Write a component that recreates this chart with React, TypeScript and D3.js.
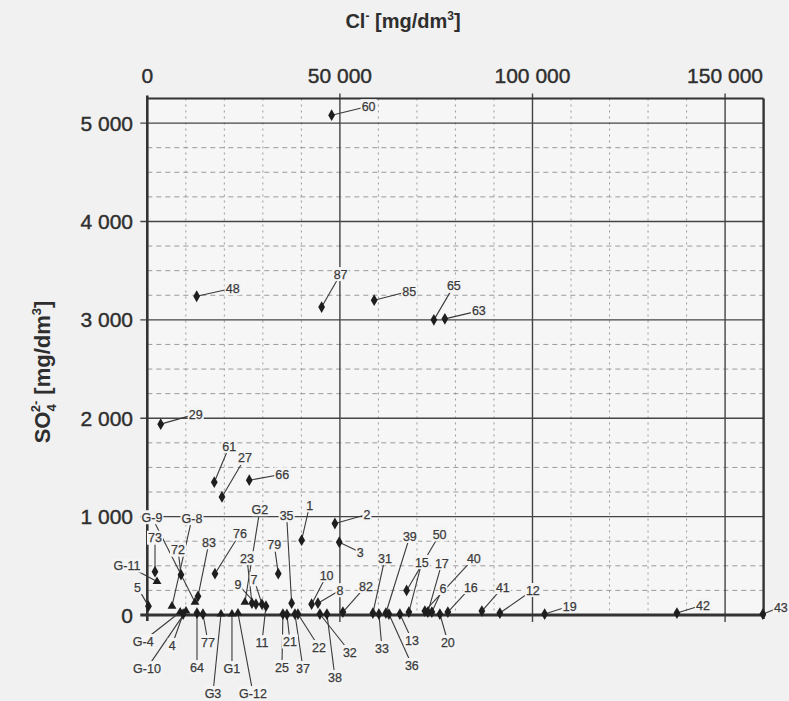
import React from "react";
import * as d3 from "d3";

// Sample identifiers and their concentrations
const sampleIds = [
  "60", "87", "85", "65", "63", "48", "29", "61", "27", "66",
  "1", "2", "3", "79", "76", "83", "73", "72", "G-11", "5",
  "G-9", "G-8", "G-4", "G-10", "4", "77", "64", "G3", "G1", "G-12",
  "G2", "23", "9", "7", "11", "35", "25", "21", "37", "22",
  "10", "8", "32", "38", "82", "31", "33", "39", "36", "13",
  "50", "15", "40", "17", "6", "20", "16", "41", "12", "19",
  "42", "43",
];

// Cl- [mg/dm3]
const chloride = [
  47850, 45260, 58900, 74400, 77250, 12820, 3480, 17390, 19380, 26470,
  40070, 48710, 49830, 34000, 17570, 13160, 2000, 8750, 2520, 300,
  12380, 6410, 8540, 10040, 9300, 14450, 12900, 19130, 21980, 23540,
  25350, 27170, 28210, 29770, 30810, 37470, 35210, 36250, 38330, 39110,
  42660, 44300, 44800, 46630, 50780, 58570, 60130, 61940, 62720, 65580,
  67320, 67910, 72060, 72840, 73880, 75960, 78030, 86860, 91530, 103160,
  137500, 159800,
];

// SO4 2- [mg/dm3]
const sulfate = [
  5080, 3130, 3200, 3000, 3010, 3240, 1940, 1350, 1200, 1370,
  760, 930, 740, 420, 420, 190, 440, 410, 340, 90,
  130, 90, 30, 40, 10, 10, 20, 10, 10, 20,
  130, 120, 110, 110, 90, 120, 10, 5, 10, 10,
  110, 120, 10, 10, 30, 20, 10, 20, 10, 10,
  250, 30, 40, 30, 30, 10, 30, 40, 20, 10,
  20, 10,
];

// Label placement (pixel offset of each label from its marker)
const labelDx = [
  37, 19, 35, 20, 34, 36, 35, 15, 23, 33,
  8, 32, 21, -4, 25, 11, 0, -3, -30, -11,
  -43, 20, -37, -39, -11, 5, 0, -8, 0, 15,
  15, -5, -18, -8, -4, -5, -1, 3, 8, 21,
  15, 22, 30, 8, 23, 12, 3, 24, 23, 12,
  33, 13, 49, 14, 11, 8, 23, 21, 33, 25,
  26, 18,
];
const labelDy = [
  -9, -33, -9, -34, -8, -8, -10, -36, -39, -6,
  -35, -9, 10, -29, -40, -54, -34, -25, -16, -19,
  -85, -88, 29, 57, 31, 28, 54, 79, 54, 80,
  -93, -45, -20, -25, 36, -88, 53, 27, 54, 33,
  -29, -13, 38, 63, -26, -55, 34, -77, 51, 26,
  -56, -50, -53, -49, -24, 28, -25, -24, -23, -8,
  -8, -7,
];

const xMajorTicks = [0, 50000, 100000, 150000];
const yMajorTicks = [0, 1000, 2000, 3000, 4000, 5000];
const xTickLabels = ["0", "50 000", "100 000", "150 000"];
const yTickLabels = ["0", "1 000", "2 000", "3 000", "4 000", "5 000"];

const W = 789;
const H = 701;
const BG = "#f1f1f1";
const INK = "#2e2e2e";
const FONT = "'Liberation Sans', Arial, sans-serif";

export default function App() {
  const x = d3.scaleLinear().domain([0, 160000]).range([147.3, 763.6]);
  const y = d3.scaleLinear().domain([0, 5250]).range([615, 98.5]);

  const xMinor = d3.range(10000, 160000, 10000).filter((v) => v % 50000 !== 0);
  const yMinor = d3.range(250, 5250, 250).filter((v) => v % 1000 !== 0);

  const [x0, x1] = x.range();
  const [y0, y1] = y.range();

  const points = sampleIds.map((id, i) => {
    const px = x(chloride[i]);
    const py = y(sulfate[i]);
    return {
      id,
      px,
      py,
      lx: px + labelDx[i],
      ly: py + labelDy[i],
      w: id.length * 7 + 2,
    };
  });

  const diamond = d3.symbol().type(d3.symbolDiamond).size(40);
  const triangle = d3.symbol().type(d3.symbolTriangle).size(34);

  return (
    <svg
      width={W}
      height={H}
      viewBox={`0 0 ${W} ${H}`}
      style={{ position: "absolute", left: 0, top: 0, background: BG }}
      fontFamily={FONT}
    >
      <rect x={0} y={0} width={W} height={H} fill={BG} />
      <rect x={x0} y={y1} width={x1 - x0} height={y0 - y1} fill="#f6f6f6" />

      {/* minor grid */}
      {xMinor.map((v) => (
        <line
          key={"xm" + v}
          x1={x(v)}
          x2={x(v)}
          y1={y1}
          y2={y0}
          stroke="#909090"
          strokeWidth={0.9}
          strokeDasharray="2 4"
        />
      ))}
      {yMinor.map((v) => (
        <line
          key={"ym" + v}
          x1={x0}
          x2={x1}
          y1={y(v)}
          y2={y(v)}
          stroke="#909090"
          strokeWidth={0.9}
          strokeDasharray="5 4"
        />
      ))}

      {/* major grid with outer ticks */}
      {xMajorTicks.slice(1).map((v) => (
        <line
          key={"xM" + v}
          x1={x(v)}
          x2={x(v)}
          y1={y1 - 5}
          y2={y0 + 7}
          stroke="#444"
          strokeWidth={1.4}
        />
      ))}
      {yMajorTicks.slice(1).map((v) => (
        <line
          key={"yM" + v}
          x1={x0 - 7}
          x2={x1}
          y1={y(v)}
          y2={y(v)}
          stroke="#444"
          strokeWidth={1.4}
        />
      ))}

      {/* frame */}
      <line x1={x0} x2={x1} y1={y1} y2={y1} stroke="#333" strokeWidth={2} />
      <line x1={x1} x2={x1} y1={y1} y2={y0 + 4} stroke="#333" strokeWidth={2.4} />
      <line x1={x0} x2={x0} y1={y1 - 3} y2={y0 + 6} stroke="#333" strokeWidth={2.6} />
      <line x1={x0 - 7} x2={x1 + 2} y1={y0} y2={y0} stroke="#333" strokeWidth={2.8} />

      {/* tick labels */}
      {xMajorTicks.map((v, i) => (
        <text
          key={"xt" + v}
          x={x(v)}
          y={83}
          textAnchor="middle"
          fontSize={21}
          fill={INK}
          stroke={INK}
          strokeWidth={0.4}
        >
          {xTickLabels[i]}
        </text>
      ))}
      {yMajorTicks.map((v, i) => (
        <text
          key={"yt" + v}
          x={133}
          y={y(v)}
          dy="0.36em"
          textAnchor="end"
          fontSize={21}
          fill={INK}
          stroke={INK}
          strokeWidth={0.4}
        >
          {yTickLabels[i]}
        </text>
      ))}

      {/* axis titles */}
      <text x={403} y={28} textAnchor="middle" fontSize={20} fontWeight="bold" fill={INK}>
        Cl
        <tspan fontSize={12} dy={-8}>-</tspan>
        <tspan dy={8}> [mg/dm</tspan>
        <tspan fontSize={12} dy={-8}>3</tspan>
        <tspan dy={8}>]</tspan>
      </text>
      <text
        transform="translate(50,372) rotate(-90)"
        textAnchor="middle"
        fontSize={22}
        fontWeight="bold"
        fill={INK}
      >
        SO
        <tspan fontSize={13} dy={6}>4</tspan>
        <tspan fontSize={13} dx={-8} dy={-16}>2-</tspan>
        <tspan dy={10}> [mg/dm</tspan>
        <tspan fontSize={13} dy={-9}>3</tspan>
        <tspan dy={9}>]</tspan>
      </text>

      {/* leader lines */}
      {points.map((p) => (
        <line
          key={"ll" + p.id}
          x1={p.px}
          y1={p.py}
          x2={p.lx}
          y2={p.ly}
          stroke="#3a3a3a"
          strokeWidth={1.1}
        />
      ))}

      {/* sample labels */}
      {points.map((p) => (
        <g key={"lb" + p.id}>
          <rect
            x={p.lx - p.w / 2}
            y={p.ly - 7}
            width={p.w}
            height={14}
            fill="#f4f4f4"
          />
          <text
            x={p.lx}
            y={p.ly}
            dy="0.36em"
            textAnchor="middle"
            fontSize={12.5}
            fill="#3a3a3a"
            stroke="#3a3a3a"
            strokeWidth={0.25}
          >
            {p.id}
          </text>
        </g>
      ))}

      {/* markers */}
      {points.map((p) => (
        <path
          key={"mk" + p.id}
          d={(p.id.startsWith("G") ? triangle : diamond)() as string}
          transform={`translate(${p.px},${p.py})`}
          fill="#1e1e1e"
        />
      ))}
    </svg>
  );
}
